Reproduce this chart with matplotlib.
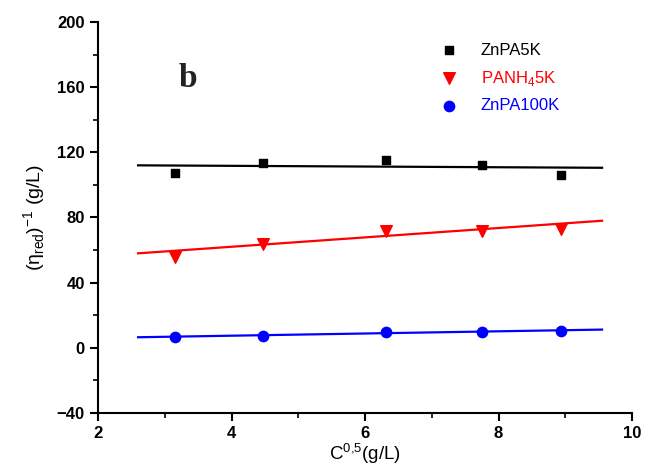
import matplotlib
matplotlib.use('Agg')
import matplotlib.pyplot as plt
from matplotlib.ticker import MultipleLocator

plt.rcParams['font.family'] = ['Liberation Sans', 'DejaVu Sans']
plt.rcParams['mathtext.fontset'] = 'custom'
plt.rcParams['mathtext.rm'] = 'Liberation Sans'

# data
conc_sqrt = [3.16, 4.47, 6.32, 7.75, 8.94]
znpa5k = [107, 113.5, 115.5, 112, 106]
panh4_5k = [56, 64, 72, 72, 73]
znpa100k = [6.5, 7.5, 9.5, 10, 10.5]

fit_x = [2.6, 9.55]
fit_znpa5k = [112, 110.5]
fit_panh4_5k = [58, 78]
fit_znpa100k = [6.5, 11.2]

fig = plt.figure(figsize=(6.47, 4.67), dpi=100)
ax = fig.add_axes([0.1515, 0.1156, 0.8255, 0.8374])

ax.plot(fit_x, fit_znpa5k, color='black', lw=1.6)
ax.plot(fit_x, fit_panh4_5k, color='red', lw=1.6)
ax.plot(fit_x, fit_znpa100k, color='blue', lw=1.6)

ax.scatter(conc_sqrt, znpa5k, marker='s', s=40, color='black', label='ZnPA5K', zorder=3)
ax.scatter(conc_sqrt, panh4_5k, marker='v', s=70, color='red', label='PANH$_4$5K', zorder=3)
ax.scatter(conc_sqrt, znpa100k, marker='o', s=55, color='blue', label='ZnPA100K', zorder=3)

ax.set_xlim(2, 10)
ax.set_ylim(-40, 200)
ax.xaxis.set_major_locator(MultipleLocator(2))
ax.xaxis.set_minor_locator(MultipleLocator(1))
ax.yaxis.set_major_locator(MultipleLocator(40))
ax.yaxis.set_minor_locator(MultipleLocator(20))
for s in ['top', 'right']:
    ax.spines[s].set_visible(False)
for s in ['left', 'bottom']:
    ax.spines[s].set_linewidth(1.5)
ax.tick_params(which='major', direction='out', length=6, width=1.5, labelsize=12)
ax.tick_params(which='minor', direction='out', length=3.5, width=1.2)
for lbl in ax.get_xticklabels() + ax.get_yticklabels():
    lbl.set_fontweight('bold')

ax.set_xlabel('C$^{\\mathrm{0{,}5}}$(g/L)', fontsize=13.5, labelpad=0)
ax.set_ylabel('(η$_{\\mathrm{red}}$)$^{\\mathrm{-1}}$ (g/L)', fontsize=14, labelpad=6)

ax.text(3.35, 165, 'b', fontsize=24, fontweight='bold', family='Liberation Serif',
        ha='center', va='center', color='#222222')

leg = ax.legend(loc='upper right', bbox_to_anchor=(0.893, 0.985), frameon=False,
                fontsize=12, handletextpad=0.9, labelspacing=0.65, scatterpoints=1)
for txt, c in zip(leg.get_texts(), ['black', 'red', 'blue']):
    txt.set_color(c)

fig.savefig('out.png', dpi=100)
